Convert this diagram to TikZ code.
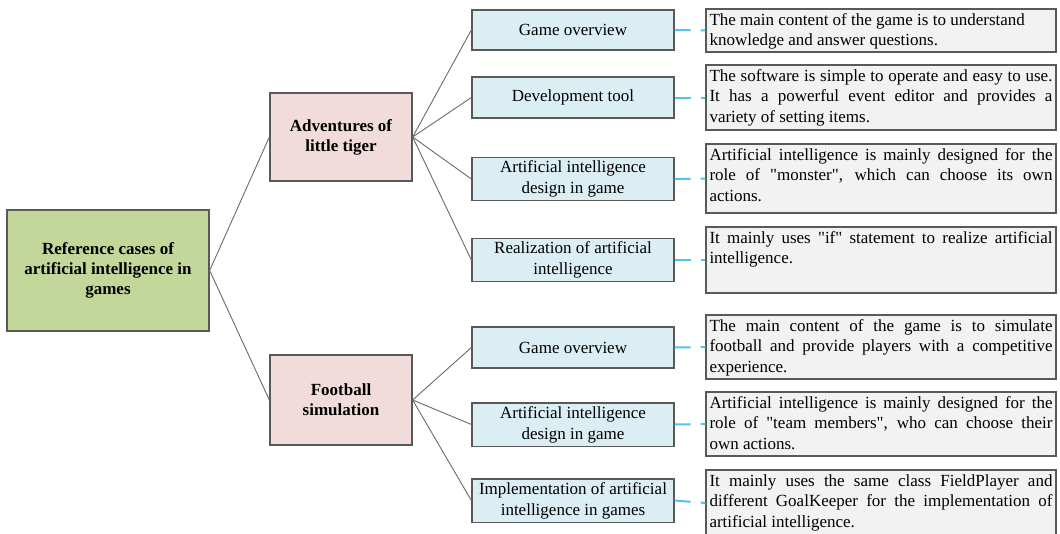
\documentclass[tikz,border=0pt]{standalone}
\usepackage{fontspec}
\setmainfont{Liberation Serif}
\newfontfamily\plainquote{Liberation Serif}
\usetikzlibrary{positioning}

\definecolor{rootgreen}{RGB}{196,215,155}
\definecolor{casepink}{RGB}{242,220,219}
\definecolor{itemblue}{RGB}{219,238,244}
\definecolor{descgray}{RGB}{242,242,242}
\definecolor{edgegray}{RGB}{89,89,89}
\definecolor{dashcyan}{RGB}{80,195,238}

% justified description text, top aligned in a box of fixed height
\newcommand{\desc}[2]{\parbox[c][#1][t]{343pt}{\vspace*{2.5pt}#2}}
% straight double quote
\newcommand{\sq}{{\plainquote\symbol{34}}}

\begin{document}
\begin{tikzpicture}[x=1pt,y=-1pt,
    rootbox/.style={draw=edgegray,line width=1.3pt,fill=rootgreen,minimum width=202pt,minimum height=121pt,align=center,font=\fontsize{17}{20}\selectfont\bfseries},
    casebox/.style={draw=edgegray,line width=1.3pt,fill=casepink,minimum width=142pt,align=center,font=\fontsize{17}{20}\selectfont\bfseries},
    itembox/.style={draw=edgegray,line width=1.3pt,fill=itemblue,minimum width=202pt,align=center,font=\fontsize{17}{21}\selectfont},
    descbox/.style={draw=edgegray,line width=1.3pt,fill=descgray,inner xsep=3.5pt,inner ysep=2pt,font=\fontsize{17}{20.5}\selectfont},
    conn/.style={draw=edgegray!90,line width=0.9pt},
    dashconn/.style={draw=dashcyan,line width=2pt,dash pattern=on 16pt off 10pt}]
    \useasboundingbox (0,0) rectangle (1060,533);
    % root
    \node[rootbox] (root) at (108,270.5) {Reference cases of\\artificial intelligence in\\games};
    % the two cases
    \node[casebox,minimum height=88pt] (tiger) at (341,137) {Adventures of\\little tiger};
    \node[casebox,minimum height=90pt] (football) at (341,400) {Football\\simulation};
    % items of Adventures of little tiger
    \node[itembox,minimum height=40pt] (t1) at (573,30) {Game overview};
    \node[itembox,minimum height=41pt] (t2) at (573,97.5) {Development tool};
    \node[itembox,minimum height=42pt] (t3) at (573,179) {Artificial intelligence\\design in game};
    \node[itembox,minimum height=42pt] (t4) at (573,260) {Realization of artificial\\intelligence};
    % items of Football simulation
    \node[itembox,minimum height=41pt] (f1) at (573,347.5) {Game overview};
    \node[itembox,minimum height=41pt] (f2) at (573,424.5) {Artificial intelligence\\design in game};
    \node[itembox,minimum height=41pt] (f3) at (573,500.5) {Implementation of artificial\\intelligence in games};
    % descriptions
    \node[descbox] (d1) at (881,30.5) {\desc{39pt}{The main content of the game is to understand\newline knowledge and answer questions.}};
    \node[descbox] (d2) at (881,97.5) {\desc{61pt}{The software is simple to operate and easy to use.\linebreak It has a powerful event editor and provides a\linebreak variety of setting items.}};
    \node[descbox] (d3) at (881,178.5) {\desc{65pt}{Artificial intelligence is mainly designed for the\linebreak role of \sq monster\sq, which can choose its own\linebreak actions.}};
    \node[descbox] (d4) at (881,260) {\desc{62pt}{It mainly uses \sq if\sq\ statement to realize artificial\linebreak intelligence.}};
    \node[descbox] (d5) at (881,347) {\desc{60pt}{The main content of the game is to simulate\linebreak football and provide players with a competitive\linebreak experience.}};
    \node[descbox] (d6) at (881,424) {\desc{60pt}{Artificial intelligence is mainly designed for the\linebreak role of \sq team members\sq, who can choose their\linebreak own actions.}};
    \node[descbox] (d7) at (881,503) {\desc{62pt}{It mainly uses the same class FieldPlayer and\linebreak different GoalKeeper for the implementation of\linebreak artificial intelligence.}};
    % tree lines
    \draw[conn] (root.east) -- (tiger.west);
    \draw[conn] (root.east) -- (football.west);
    \draw[conn] (tiger.east) -- (t1.west);
    \draw[conn] (tiger.east) -- (t2.west);
    \draw[conn] (tiger.east) -- (t3.west);
    \draw[conn] (tiger.east) -- (t4.west);
    \draw[conn] (football.east) -- (f1.west);
    \draw[conn] (football.east) -- (f2.west);
    \draw[conn] (football.east) -- (f3.west);
    % dashed links to the descriptions
    \draw[dashconn] (t1.east) -- (d1.west);
    \draw[dashconn] (t2.east) -- (d2.west);
    \draw[dashconn] (t3.east) -- (d3.west);
    \draw[dashconn] (t4.east) -- (d4.west);
    \draw[dashconn] (f1.east) -- (d5.west);
    \draw[dashconn] (f2.east) -- (d6.west);
    \draw[dashconn] (f3.east) -- (d7.west);
\end{tikzpicture}
\end{document}
